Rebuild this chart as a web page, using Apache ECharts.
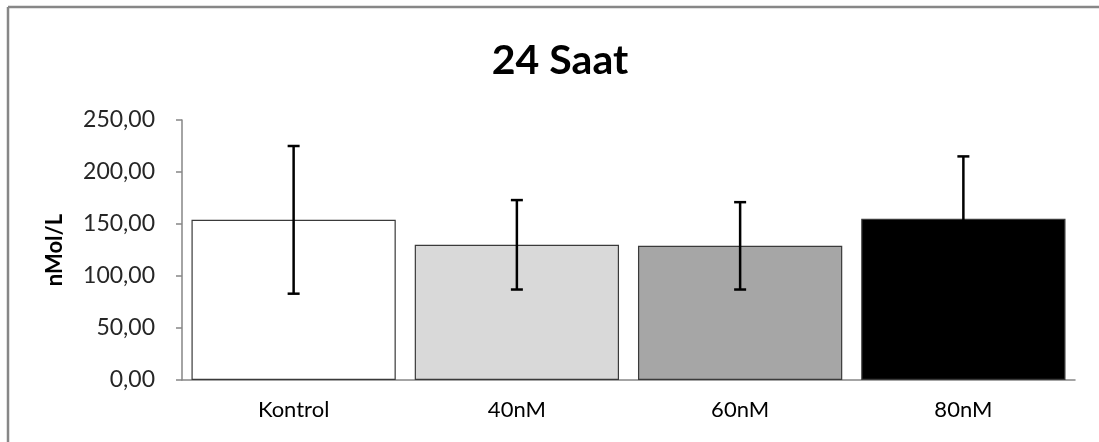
<!DOCTYPE html>
<html>
<head>
<meta charset="utf-8">
<title>24 Saat</title>
<script src="https://cdn.jsdelivr.net/npm/echarts@6/dist/echarts.min.js"></script>
<style>
  html, body { margin: 0; padding: 0; background: #ffffff; }
  #chart { width: 1099px; height: 442px; }
</style>
</head>
<body>
<div id="chart"></div>
<script>
// Groups, mean concentrations and their error margins (nMol/L)
const categories = ['Kontrol', '40nM', '60nM', '80nM'];
const means = [154, 130, 129, 155];
const errors = [71, 43, 42, 60];
const barColors = ['#ffffff', '#d9d9d9', '#a6a6a6', '#000000'];
const yTicks = { min: 0, max: 250, interval: 50 };

const FONT = 'Lato, "Open Sans", sans-serif';

const chart = echarts.init(document.getElementById('chart'), null, { renderer: 'canvas' });

const option = {
  backgroundColor: '#ffffff',
  animation: false,
  title: {
    text: '24 Saat',
    left: 555,
    textAlign: 'center',
    top: 35,
    textStyle: { fontFamily: FONT, fontWeight: 'bold', fontSize: 41, color: '#000000' }
  },
  grid: { left: 182, right: 24, top: 120, bottom: 62, containLabel: false },
  xAxis: {
    type: 'category',
    data: categories,
    axisLine: { lineStyle: { color: '#868686', width: 1.5 } },
    axisTick: { show: false },
    axisLabel: { fontFamily: FONT, fontSize: 22, color: '#000000', margin: 19 }
  },
  yAxis: {
    type: 'value',
    min: yTicks.min,
    max: yTicks.max,
    interval: yTicks.interval,
    name: 'nMol/L',
    nameLocation: 'middle',
    nameRotate: 90,
    nameGap: 116,
    nameTextStyle: { fontFamily: FONT, fontWeight: 'bold', fontSize: 22, color: '#000000' },
    axisLine: { show: true, lineStyle: { color: '#868686', width: 1.5 } },
    axisTick: { show: true, length: 6, lineStyle: { color: '#868686', width: 1.5 } },
    splitLine: { show: false },
    axisLabel: {
      fontFamily: FONT, fontSize: 23, color: '#262626', margin: 27,
      formatter: v => v.toFixed(2).replace('.', ',')
    }
  },
  graphic: [
    // chart frame (top and left edges)
    { type: 'line', shape: { x1: 8, y1: 7, x2: 1099, y2: 7 }, style: { stroke: '#878787', lineWidth: 2.5 } },
    { type: 'line', shape: { x1: 8, y1: 7, x2: 8, y2: 442 }, style: { stroke: '#878787', lineWidth: 2.5 } }
  ],
  series: [
    {
      type: 'bar',
      barCategoryGap: '8.5%',
      data: means.map((v, i) => ({
        value: v,
        itemStyle: { color: barColors[i], borderColor: '#3a3a3a', borderWidth: 1.2 }
      })),
      z: 2
    },
    {
      type: 'custom',
      z: 3,
      data: means.map((v, i) => [i, v - errors[i], v + errors[i]]),
      renderItem: function (params, api) {
        const lo = api.coord([api.value(0), api.value(1)]);
        const hi = api.coord([api.value(0), api.value(2)]);
        const cap = 6;
        const style = { stroke: '#000000', lineWidth: 2.5 };
        return {
          type: 'group',
          children: [
            { type: 'line', shape: { x1: hi[0], y1: hi[1], x2: lo[0], y2: lo[1] }, style: style },
            { type: 'line', shape: { x1: hi[0] - cap, y1: hi[1], x2: hi[0] + cap, y2: hi[1] }, style: style },
            { type: 'line', shape: { x1: lo[0] - cap, y1: lo[1], x2: lo[0] + cap, y2: lo[1] }, style: style }
          ]
        };
      }
    }
  ]
};

chart.setOption(option);
</script>
</body>
</html>
